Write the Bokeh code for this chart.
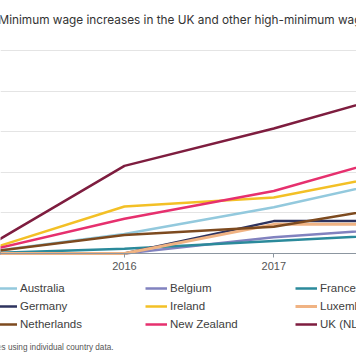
from bokeh.plotting import figure
from bokeh.models import Range1d, FixedTicker, Legend, LegendItem, Label
from bokeh.embed import file_html
from bokeh.resources import INLINE

# ---- data (cumulative % increase since 2015) ----
years = [2015, 2016, 2017, 2018]
countries = ["Australia", "Belgium", "France", "Germany", "Ireland",
             "Luxembourg", "Netherlands", "New Zealand", "UK (NLW)"]
australia = [0, 2.4, 5.7, 9.8]
belgium = [0, 0.0, 2.0, 3.3]
france = [0, 0.6, 1.55, 2.5]
germany = [0, 0.0, 4.0, 4.0]
ireland = [0, 5.8, 6.9, 10.5]
luxembourg = [0, 0.0, 3.6, 3.6]
netherlands = [0, 2.3, 3.3, 6.4]
new_zealand = [0, 4.3, 7.7, 12.9]
uk_nlw = [0, 10.8, 15.4, 20.6]
y_ticks = [0, 5, 10, 15, 20, 25]

series = [australia, belgium, france, germany, ireland,
          luxembourg, netherlands, new_zealand, uk_nlw]
colors = ["#93c9dd", "#8182bf", "#2b8a9b", "#2e335e", "#f3c026",
          "#f0b383", "#7d4a1f", "#e6306e", "#7e1d3f"]
widths = [2.5, 2.5, 2.5, 2.5, 2.5, 3.0, 2.5, 2.5, 2.5]

title_text = "Minimum wage increases in the UK and other high-minimum wage countries"
note_text = "Notes: Estimates using individual country data."

W, H = 356, 364
p = figure(width=W, height=H, output_backend="svg", toolbar_location=None,
           x_range=Range1d(2015.17, 2017.554), y_range=Range1d(-13.66, 31.17),
           y_axis_location=None,
           min_border_left=0, min_border_right=0,
           min_border_top=0, min_border_bottom=0)
p.outline_line_color = None
p.background_fill_color = "white"
p.border_fill_color = "white"

# grid
p.xgrid.visible = False
p.ygrid.ticker = FixedTicker(ticks=y_ticks)
p.ygrid.grid_line_color = "#e4e4e4"
p.ygrid.grid_line_width = 1

# x axis drawn at zero
xa = p.xaxis[0]
xa.fixed_location = 0
xa.ticker = FixedTicker(ticks=years)
xa.axis_line_color = "#8c96a0"
xa.axis_line_width = 1
xa.major_tick_line_color = "#8c96a0"
xa.major_tick_in = 0
xa.major_tick_out = 4
xa.minor_tick_line_color = None
xa.major_label_standoff = 4
xa.major_label_text_font = "Liberation Sans"
xa.major_label_text_font_size = "11px"
xa.major_label_text_color = "#555555"

items = []
for name, vals, col, lw in zip(countries, series, colors, widths):
    r = p.line(years, vals, line_color=col, line_width=lw)
    items.append(LegendItem(label=name, renderers=[r]))

legend = Legend(items=items, orientation="horizontal", ncols=3,
                location=(-5, 31),
                glyph_width=22, glyph_height=18, label_height=18,
                label_width=125, label_standoff=3, spacing=0,
                padding=0, margin=0,
                border_line_alpha=0, background_fill_alpha=0,
                label_text_font="Liberation Sans",
                label_text_font_size="11.5px",
                label_text_color="#404040")
p.add_layout(legend)

title = Label(x=-2, y=344.5, x_units="screen", y_units="screen",
              text=title_text, text_font="Inter", text_font_size="11.8px",
              text_color="#333333", text_baseline="alphabetic", text_align="left")
p.add_layout(title)

note = Label(x=113, y=17, x_units="screen", y_units="screen",
             text=note_text, text_font="Liberation Sans",
             text_font_size="8.2px", text_color="#555555",
             text_baseline="middle", text_align="right")
p.add_layout(note)

open("out.html", "w").write(file_html(p, INLINE))
